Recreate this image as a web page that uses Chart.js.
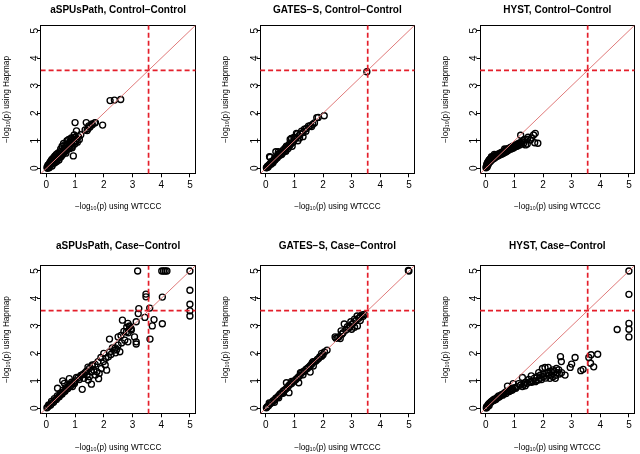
<!DOCTYPE html>
<html>
<head>
<meta charset="utf-8">
<script src="https://cdn.jsdelivr.net/npm/chart.js@4/dist/chart.umd.min.js"></script>
<style>
html,body{margin:0;padding:0;background:#fff;width:640px;height:454px;overflow:hidden;position:relative}
canvas{position:absolute}
</style>
</head>
<body>
<canvas id="c0"></canvas><canvas id="c1"></canvas><canvas id="c2"></canvas>
<canvas id="c3"></canvas><canvas id="c4"></canvas><canvas id="c5"></canvas>
<script>
const panelTitles = ['aSPUsPath, Control\u2212Control','GATES\u2212S, Control\u2212Control','HYST, Control\u2212Control',
  'aSPUsPath, Case\u2212Control','GATES\u2212S, Case\u2212Control','HYST, Case\u2212Control'];
const xTitle = '\u2212log\u2081\u2080(p) using WTCCC';
const yTitle = '\u2212log\u2081\u2080(p) using Hapmap';
const tickValues = [0,1,2,3,4,5];
const threshold = 3.56;
const axisMin = -0.2, axisMax = 5.2;

// aSPUsPath, Control-Control
const p1x = [2.59,2.37,2.22,1.96,1.71,1.59,1.48,1.39,1.35,1.42,1.00,1.05,0.94,0.97,1.03,1.45,1.52,1.60,1.68,
 0.02,0.04,0.05,0.06,0.08,0.10,0.10,0.12,0.14,0.15,0.17,0.18,0.20,0.20,0.22,0.24,0.25,0.27,0.28,0.30,0.30,0.32,0.34,0.35,0.36,0.38,0.40,0.40,0.42,0.44,0.45,0.47,0.48,0.50,0.50,0.52,0.54,0.55,0.57,0.58,0.60,0.60,0.62,0.64,0.65,0.67,0.68,0.70,0.72,0.73,0.75,0.77,0.78,0.80,0.82,0.84,0.85,0.87,0.88,0.90,0.92,0.95,0.97,0.99,1.02,1.05,1.08,1.12,1.15,1.20,0.90,0.66,0.45,0.30];
const p1y = [2.50,2.48,2.46,1.57,1.66,1.61,1.54,1.66,1.39,1.37,1.66,1.36,0.45,1.21,0.97,1.44,1.50,1.58,1.65,
 0.03,0.00,0.08,0.12,0.05,0.15,0.02,0.20,0.10,0.25,0.15,0.30,0.08,0.22,0.35,0.18,0.30,0.40,0.22,0.33,0.45,0.28,0.38,0.50,0.25,0.42,0.35,0.55,0.45,0.30,0.52,0.60,0.40,0.50,0.70,0.43,0.58,0.80,0.50,0.65,0.55,0.90,0.72,0.60,0.85,0.70,0.55,0.80,1.00,0.68,0.88,0.75,1.05,0.90,0.72,1.00,0.85,1.10,0.95,0.80,1.05,0.95,1.12,0.88,1.00,1.08,0.95,1.15,1.05,1.22,0.75,0.62,0.40,0.20];

// GATES-S, Control-Control
const p2x = [3.53,2.04,1.83,1.78,1.64,1.55,1.49,1.42,1.35,1.30,1.25,1.20,1.15,1.10,1.05,1.00,0.98,0.95,0.90,0.88,0.85,0.82,0.80,0.78,0.75,0.72,0.70,0.68,0.66,0.62,0.60,0.58,0.55,0.52,0.50,0.48,0.45,0.42,0.40,0.38,0.35,0.35,0.32,0.30,0.28,0.25,0.22,0.20,0.18,0.15,0.15,0.12,0.10,0.08,0.06,0.04,0.02,0.13,1.30,1.12,0.92,0.70,1.40,1.60,1.70,0.85,1.07,0.89,0.44,0.25,0.55,1.18];
const p2y = [3.51,1.91,1.85,1.84,1.60,1.55,1.53,1.45,1.42,1.30,1.35,1.25,1.18,1.25,1.10,1.05,1.12,0.95,1.08,0.90,0.85,0.88,0.80,0.72,0.78,0.80,0.70,0.74,0.64,0.68,0.60,0.55,0.58,0.52,0.48,0.55,0.45,0.50,0.38,0.42,0.60,0.35,0.30,0.35,0.28,0.27,0.22,0.25,0.15,0.40,0.17,0.12,0.10,0.05,0.08,0.03,0.02,0.42,1.15,1.00,0.80,0.62,1.35,1.52,1.65,1.05,1.27,1.09,0.60,0.20,0.50,1.10];

// HYST, Control-Control
const p3x = [0.01,0.02,0.03,0.04,0.05,0.06,0.08,0.09,0.10,0.12,0.13,0.15,0.17,0.18,0.20,0.22,0.24,0.26,0.28,0.30,0.32,0.35,0.37,0.40,0.42,0.45,0.47,0.50,0.52,0.55,0.57,0.60,0.62,0.65,0.67,0.70,0.72,0.75,0.78,0.80,0.82,0.85,0.88,0.90,0.93,0.95,0.98,1.00,1.03,1.05,1.08,1.10,1.12,1.15,1.18,1.20,1.22,1.25,1.27,1.30,1.33,1.35,1.39,1.45,1.48,1.45,1.56,1.60,1.67,1.73,1.71,1.82,0.20,0.30,0.66];
const p3y = [0.02,0.06,0.10,0.15,0.05,0.20,0.12,0.25,0.18,0.30,0.22,0.33,0.26,0.36,0.30,0.40,0.33,0.42,0.36,0.45,0.38,0.48,0.42,0.50,0.45,0.52,0.47,0.55,0.50,0.58,0.52,0.60,0.55,0.62,0.58,0.68,0.60,0.70,0.65,0.72,0.68,0.75,0.70,0.78,0.72,0.80,0.75,0.82,0.78,0.85,0.80,0.88,0.82,0.90,0.85,0.93,1.20,0.88,0.95,1.00,0.92,1.05,0.85,0.88,1.13,1.05,1.03,1.10,1.21,1.27,0.93,0.91,0.42,0.50,0.70];

// aSPUsPath, Case-Control
const p4x = [3.18,4.02,4.08,4.14,4.20,5.00,5.00,5.00,5.00,5.00,3.47,3.47,4.04,3.22,3.60,3.43,3.75,3.69,4.04,3.61,3.20,3.13,
 2.65,2.84,2.90,2.96,2.79,3.07,3.13,3.13,2.84,2.73,2.62,2.50,2.45,2.56,2.41,2.37,2.25,2.16,2.07,2.20,1.99,2.05,2.10,1.91,1.84,1.76,1.71,1.65,1.60,1.57,1.50,1.46,1.42,1.31,1.25,1.57,0.91,0.39,0.63,0.57,0.80,1.82,
 2.50,2.70,2.80,2.90,2.95,2.85,2.60,2.40,2.30,2.20,2.00,1.90,1.80,1.70,1.60,1.50,1.40,1.30,1.20,1.10,1.00,0.95,0.90,0.85,0.80,0.75,0.70,0.65,0.60,0.55,0.50,0.45,0.40,0.35,0.30,0.25,0.20,0.15,0.10,0.05,0.02,1.15,1.05,0.98,0.88,0.78,0.68,0.58,0.48,0.38,0.28,0.18,0.08,1.35,1.45,1.25];
const p4y = [5.00,5.00,5.00,5.00,5.00,5.00,4.30,3.79,3.55,3.36,4.16,4.06,4.05,3.63,3.65,3.31,3.23,3.00,3.08,2.52,3.45,3.15,
 3.21,3.09,2.97,2.85,2.79,2.60,2.42,2.34,2.42,2.48,2.38,2.30,2.14,2.06,2.02,2.12,1.96,1.88,1.82,2.52,1.70,1.58,1.39,1.45,1.27,1.33,1.21,1.39,1.58,1.33,1.15,1.03,1.21,1.09,0.69,0.88,0.79,0.73,0.91,1.00,1.08,1.08,
 2.60,2.80,2.95,3.00,2.90,2.75,2.65,2.20,2.20,2.05,2.00,1.85,1.70,1.60,1.55,1.45,1.35,1.25,1.20,1.10,1.00,0.92,0.90,0.82,0.80,0.72,0.70,0.62,0.60,0.52,0.50,0.42,0.40,0.32,0.30,0.22,0.20,0.12,0.10,0.05,0.02,1.05,1.12,0.90,0.95,0.85,0.75,0.66,0.55,0.45,0.35,0.25,0.12,1.30,1.50,1.22];

// GATES-S, Case-Control
const p5x = [5.00,4.98,3.44,3.36,3.30,3.25,3.19,3.15,3.10,3.05,3.00,2.97,2.95,2.90,2.85,2.80,2.74,2.70,2.66,2.63,2.60,2.55,2.51,2.45,2.42,3.20,3.10,3.00,3.30,3.40,
 2.14,2.05,2.00,1.95,1.89,1.85,1.80,1.75,1.70,1.66,1.62,1.60,1.55,1.55,1.50,1.45,1.40,1.35,1.30,1.25,1.21,1.20,1.15,1.15,1.10,1.05,1.00,0.95,0.90,0.85,0.80,0.81,0.75,0.72,0.70,0.65,0.60,0.55,0.50,0.45,0.40,0.35,0.30,0.25,0.20,0.15,0.10,0.05,0.02,0.12,0.30,0.45,0.60,0.90,1.30,1.65,1.95];
const p5y = [5.00,5.02,3.42,3.40,3.35,3.28,3.36,3.20,3.25,3.10,3.05,3.15,2.98,2.92,2.97,2.85,3.07,2.75,2.70,2.82,2.54,2.60,2.58,2.55,2.60,3.00,2.95,2.88,3.20,3.35,
 2.12,2.05,1.95,2.00,1.88,1.82,1.78,1.72,1.70,1.54,1.65,1.60,1.32,1.55,1.50,1.45,1.42,1.35,1.33,1.30,1.30,1.20,1.15,0.93,1.10,1.05,1.00,0.97,0.90,0.88,0.82,0.57,0.75,0.93,0.70,0.66,0.62,0.55,0.52,0.46,0.40,0.37,0.30,0.27,0.20,0.17,0.10,0.06,0.02,0.20,0.22,0.38,0.55,0.98,1.22,1.70,1.90];

// HYST, Case-Control
const p6x = [5.00,5.00,5.00,5.00,5.00,4.59,3.91,3.68,3.60,3.66,3.77,3.40,3.32,3.12,3.00,2.95,2.61,2.64,2.77,2.58,2.47,2.39,2.30,2.18,2.07,1.98,2.13,2.24,2.43,2.01,1.90,1.84,1.73,1.79,1.59,1.56,1.45,1.33,1.28,1.22,1.10,1.05,0.93,0.82,0.76,1.28,0.71,0.59,0.48,0.37,0.25,0.14,0.08,0.03,
 2.50,2.35,2.20,2.10,2.00,1.95,1.85,1.70,1.65,1.60,1.50,1.40,1.38,1.15,1.00,0.90,0.85,0.65,0.55,0.45,0.40,0.30,0.20,0.10,0.02,0.05,0.12,0.18,0.28,0.35,0.42,0.50,0.62,0.70,0.78,0.88,0.95,2.55,2.65,2.45,2.35,2.20,2.25,1.90,1.75,0.96];
const p6y = [5.00,4.15,3.09,2.88,2.60,2.87,1.97,1.95,1.85,1.64,1.51,1.42,1.37,1.85,1.61,1.49,1.88,1.70,1.21,1.25,1.45,1.33,1.21,1.49,1.49,1.45,1.27,1.09,1.09,1.15,1.21,1.03,0.97,1.15,1.18,0.97,0.91,0.88,0.79,0.85,0.79,0.73,0.67,0.61,0.81,1.12,0.54,0.48,0.42,0.36,0.30,0.20,0.12,0.06,
 1.30,1.40,1.30,1.10,1.25,1.05,1.30,1.10,1.00,0.95,1.05,0.95,0.82,0.90,0.75,0.72,0.68,0.55,0.50,0.45,0.40,0.33,0.25,0.15,0.01,0.04,0.10,0.22,0.28,0.32,0.38,0.45,0.52,0.60,0.62,0.65,0.70,1.40,1.30,1.20,1.15,1.20,1.35,1.10,1.00,0.90];

const seriesX = [p1x,p2x,p3x,p4x,p5x,p6x];
const seriesY = [p1y,p2y,p3y,p4y,p5y,p6y];

// layout (positions only)
const canvasLeft = [0,219,439];
const yAxisW = [40.6,41.1,41.0];
const rowTop = [0,236];
const rowH = [212,217];
const xAxisH = [38.2,39.2];
const titlePad = [{top:4,bottom:9.2},{top:4.3,bottom:13.2}];
const plotW = 158.6;
const canvasW = 201;

Chart.defaults.font.family = '"Liberation Sans", Arial, Helvetica, sans-serif';
Chart.defaults.color = '#000';

for (let i = 0; i < 6; i++) {
  const row = Math.floor(i/3), col = i % 3;
  const cv = document.getElementById('c'+i);
  cv.width = canvasW; cv.height = rowH[row];
  cv.style.left = canvasLeft[col] + 'px';
  cv.style.top = rowTop[row] + 'px';
  cv.style.width = canvasW + 'px'; cv.style.height = rowH[row] + 'px';
  const pts = seriesX[i].map((x,k) => ({x:x, y:seriesY[i][k]}));
  const yw = yAxisW[col];
  new Chart(cv, {
    type: 'scatter',
    data: { datasets: [
      { type:'line', xAxisID:'x', yAxisID:'y', data:[{x:threshold,y:axisMin},{x:threshold,y:axisMax}],
        borderColor:'#e41f2b', borderWidth:1.7, borderDash:[5,3], pointRadius:0, fill:false, tension:0 },
      { type:'line', xAxisID:'x', yAxisID:'y', data:[{x:axisMin,y:threshold},{x:axisMax,y:threshold}],
        borderColor:'#e41f2b', borderWidth:1.7, borderDash:[5,3], pointRadius:0, fill:false, tension:0 },
      { type:'line', xAxisID:'x', yAxisID:'y', data:[{x:axisMin,y:axisMin},{x:axisMax,y:axisMax}],
        borderColor:'#e07a7a', borderWidth:1, pointRadius:0, fill:false, tension:0 },
      { xAxisID:'x', yAxisID:'y', data: pts, pointStyle:'circle', pointRadius:3, pointBorderWidth:1.35,
        borderColor:'#000', backgroundColor:'rgba(0,0,0,0)', pointBorderColor:'#000', pointBackgroundColor:'rgba(0,0,0,0)' }
    ]},
    options: {
      responsive:false, animation:false, devicePixelRatio:1,
      layout:{ padding:{ left:0, top:0, bottom:0, right: canvasW - yw - plotW } },
      plugins:{
        legend:{display:false}, tooltip:{enabled:false},
        title:{ display:true, text:panelTitles[i], fullSize:false, color:'#000',
          font:{size:10, weight:'bold'}, padding:titlePad[row] }
      },
      scales:{
        x:{ type:'linear', position:'bottom', min:axisMin, max:axisMax,
          afterBuildTicks: s => { s.ticks = tickValues.map(v => ({value:v})); },
          ticks:{ color:'#000', font:{size:10}, padding:2, maxRotation:0, autoSkip:false, callback: v => String(v) },
          grid:{ display:true, drawOnChartArea:false, drawTicks:true, tickLength:3.5, color:'#000', lineWidth:1 },
          border:{ display:true, color:'#000', width:1 },
          title:{ display:true, text:xTitle, color:'#000', font:{size:8.2}, padding:{top:0,bottom:0} },
          afterFit: s => { s.height = xAxisH[row]; } },
        y:{ type:'linear', position:'left', min:axisMin, max:axisMax,
          afterBuildTicks: s => { s.ticks = tickValues.map(v => ({value:v})); },
          ticks:{ color:'#000', font:{size:10}, padding:-1, minRotation:90, maxRotation:90, crossAlign:'center', autoSkip:false, callback: v => String(v) },
          grid:{ display:true, drawOnChartArea:false, drawTicks:true, tickLength:3.5, color:'#000', lineWidth:1 },
          border:{ display:true, color:'#000', width:1 },
          title:{ display:true, text:yTitle, color:'#000', font:{size:8.2}, padding:{top:2.3,bottom:0} },
          afterFit: s => { s.width = yw; } },
        x2:{ type:'linear', position:'top', min:0, max:1, display:true,
          ticks:{display:false}, grid:{display:false}, border:{display:true, color:'#000', width:1},
          afterFit: s => { s.height = 0; } },
        y2:{ type:'linear', position:'right', min:0, max:1, display:true,
          ticks:{display:false}, grid:{display:false}, border:{display:true, color:'#000', width:1},
          afterFit: s => { s.width = 0; } }
      }
    }
  });
}
</script>
</body>
</html>
